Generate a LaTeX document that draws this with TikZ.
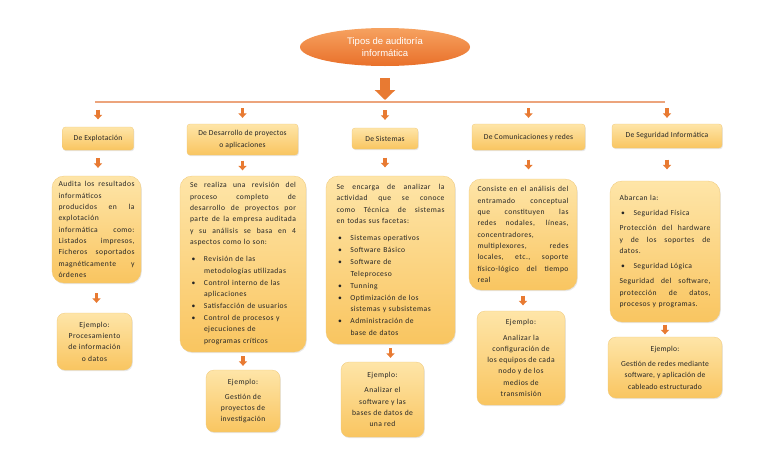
\documentclass[tikz,border=0pt]{standalone}
\usepackage{fontspec}
\setmainfont{Carlito}[LetterSpace=6]
\newfontfamily\hdrfont{Carlito}[LetterSpace=3]
\newfontfamily\exfont{Carlito}[LetterSpace=3]
\newfontfamily\hv{Liberation Sans}
\usetikzlibrary{arrows.meta,shadows,shapes.geometric,calc}
\definecolor{boxtop}{RGB}{254,229,168}
\definecolor{boxbot}{RGB}{249,197,96}
\definecolor{boxedge}{RGB}{240,200,120}
\definecolor{arrc}{RGB}{232,122,50}
\definecolor{elltop}{RGB}{246,162,96}
\definecolor{ellbot}{RGB}{233,112,42}
\definecolor{hlinec}{RGB}{236,164,124}
\newcommand\jl[1]{\hbox to\hsize{\spaceskip=.28em plus 1fil minus .08em\xspaceskip=.28em plus 1fil minus .08em\relax #1}\par}
\newcommand\bul[1]{\par\hangindent=14pt\hangafter=1\noindent\makebox[14pt][l]{\hspace{1.5pt}\textbullet}#1\par\vspace{0.8pt}}
\begin{document}
\begin{tikzpicture}[x=1pt,y=-1pt,
  font=\fontsize{7.6}{11.3}\selectfont,
  box/.style={top color=boxtop, bottom color=boxbot, draw=boxedge, line width=0.3pt,
    drop shadow={opacity=0.18,shadow xshift=0.8pt,shadow yshift=-1.2pt},
    inner sep=0pt, text=black!85},
  hdr/.style={box, rounded corners=3pt, align=center, font=\hdrfont\fontsize{7.6}{12}\selectfont},
  bodybox/.style={box, rounded corners=12pt, align=left},
  exbox/.style={box, rounded corners=8pt, align=center},
  ell/.style={ellipse, minimum width=170pt, minimum height=38pt, top color=elltop,
    bottom color=ellbot, draw=none, text=white, align=center, inner sep=0pt,
    font=\hv\fontsize{9.5}{12}\selectfont},
  arr/.style={draw=arrc, line width=3.5pt, -{Triangle[width=8pt,length=4.5pt]}},
  bigarr/.style={draw=arrc, line width=10pt, -{Triangle[width=20pt,length=10pt]}},
  hline/.style={draw=hlinec, line width=1.5pt}
]
\useasboundingbox[fill=white] (0,0) rectangle (768,466);

\node[ell] (top) at (385,47) {Tipos de auditoría\\informática};

\coordinate (L) at (95,102);
\coordinate (R) at (665,102);
\draw[hline] (L) -- (R);
\draw[bigarr, shorten <=12pt, shorten >=2pt] (top.south) -- (top.south |- L);

% headers
\node[hdr, minimum width=71pt, minimum height=23pt] (h1) at (98,138.5) {De Explotación};
\node[hdr, minimum width=111pt, minimum height=31pt] (h2) at (242.5,139.5) {De Desarrollo de proyectos\\o aplicaciones};
\node[hdr, minimum width=66pt, minimum height=21pt] (h3) at (385,138.5) {De Sistemas};
\node[hdr, minimum width=113pt, minimum height=26pt] (h4) at (528.5,137) {De Comunicaciones y redes};
\node[hdr, minimum width=110pt, minimum height=24pt] (h5) at (667,136) {De Seguridad Informática};

% bodies
\node[bodybox, minimum width=89pt, minimum height=107pt, text width=76pt] (b1) at (96.5,229.5) {%
\jl{Audita los resultados}
informáticos\par
\jl{producidos en la}
explotación\par
\jl{informática como:}
\jl{Listados impresos,}
\jl{Ficheros soportados}
\jl{magnéticamente y}
órdenes};

\node[bodybox, minimum width=126pt, minimum height=176pt, text width=106pt] (b2) at (243,264) {%
\jl{Se realiza una revisión del}
\jl{proceso completo de}
\jl{desarrollo de proyectos por}
\jl{parte de la empresa auditada}
\jl{y su análisis se basa en 4}
aspectos como lo son:\par\vspace{6pt}
\bul{Revisión de las\newline metodologías utilizadas}
\bul{Control interno de las\newline aplicaciones}
\bul{Satisfacción de usuarios}
\bul{Control de procesos y\newline ejecuciones de\newline programas críticos}};

\node[bodybox, minimum width=129pt, minimum height=168pt, text width=108pt] (b3) at (390.5,260) {%
\jl{Se encarga de analizar la}
\jl{actividad que se conoce}
\jl{como Técnica de sistemas}
en todas sus facetas:\par\vspace{6pt}
\bul{Sistemas operativos}
\bul{Software Básico}
\bul{Software de\newline Teleproceso}
\bul{Tunning}
\bul{Optimización de los\newline sistemas y subsistemas}
\bul{Administración de\newline base de datos}};

\node[bodybox, minimum width=108pt, minimum height=111pt, text width=91pt] (b4) at (523,234.5) {%
\jl{Consiste en el análisis del}
\jl{entramado conceptual}
\jl{que constituyen las}
\jl{redes nodales, líneas,}
concentradores,\par
\jl{multiplexores, redes}
\jl{locales, etc., soporte}
\jl{físico-lógico del tiempo}
real};

\node[bodybox, minimum width=110pt, minimum height=141pt, text width=91pt] (b5) at (665,251.5) {%
Abarcan la:\par\vspace{4pt}
\bul{Seguridad Física}\vspace{3pt}
\jl{Protección del hardware}
\jl{y de los soportes de}
datos.\par\vspace{4pt}
\bul{Seguridad Lógica}\vspace{3pt}
\jl{Seguridad del software,}
\jl{protección de datos,}
procesos y programas.};

% examples
\node[exbox, minimum width=75pt, minimum height=57pt] (e1) at (94.5,341.5) {Ejemplo:\\Procesamiento\\de información\\o datos};
\node[exbox, minimum width=74pt, minimum height=62pt] (e2) at (243,401) {Ejemplo:\\[4pt]Gestión de\\proyectos de\\investigación};
\node[exbox, minimum width=83pt, minimum height=75pt] (e3) at (382.5,399.5) {Ejemplo:\\[4pt]Analizar el\\software y las\\bases de datos de\\una red};
\node[exbox, minimum width=88pt, minimum height=94pt] (e4) at (521,358) {Ejemplo:\\[4pt]Analizar la\\configuración de\\los equipos de cada\\nodo y de los\\medios de\\transmisión};
\node[exbox, minimum width=114pt, minimum height=61pt, font=\exfont\fontsize{7.6}{11.3}\selectfont] (e5) at (665,367.5) {Ejemplo:\\[4pt]Gestión de redes mediante\\software, y aplicación de\\cableado estructurado};

% arrows line -> headers
\draw[arr, shorten <=7.5pt, shorten >=7.5pt] (h1.north |- L) -- (h1.north);
\draw[arr, shorten <=6pt, shorten >=6pt] (h2.north |- L) -- (h2.north);
\draw[arr, shorten <=8pt, shorten >=8pt] (h3.north |- L) -- (h3.north);
\draw[arr, shorten <=6pt, shorten >=6pt] (h4.north |- L) -- (h4.north);
\draw[arr, shorten <=6pt, shorten >=6pt] (h5.north |- L) -- (h5.north);

% headers -> bodies
\draw[arr, shorten <=8pt, shorten >=8pt] (h1.south) -- (h1.south |- b1.north);
\draw[arr, shorten <=5.5pt, shorten >=5.5pt] (h2.south) -- (h2.south |- b2.north);
\draw[arr, shorten <=8.5pt, shorten >=8.5pt] (h3.south) -- (h3.south |- b3.north);
\draw[arr, shorten <=9.5pt, shorten >=9.5pt] (h4.south) -- (h4.south |- b4.north);
\draw[arr, shorten <=11.5pt, shorten >=11.5pt] (h5.south) -- (h5.south |- b5.north);

% bodies -> examples
\draw[arr, shorten <=10pt, shorten >=10pt] (b1.south) -- (b1.south |- e1.north);
\draw[arr, shorten <=4pt, shorten >=4pt] (b2.south) -- (b2.south |- e2.north);
\draw[arr, shorten <=4pt, shorten >=4pt] (b3.south) -- (b3.south |- e3.north);
\draw[arr, shorten <=5.5pt, shorten >=5.5pt] (b4.south) -- (b4.south |- e4.north);
\draw[arr, shorten <=2.5pt, shorten >=2.5pt] (b5.south) -- (b5.south |- e5.north);
\end{tikzpicture}
\end{document}
